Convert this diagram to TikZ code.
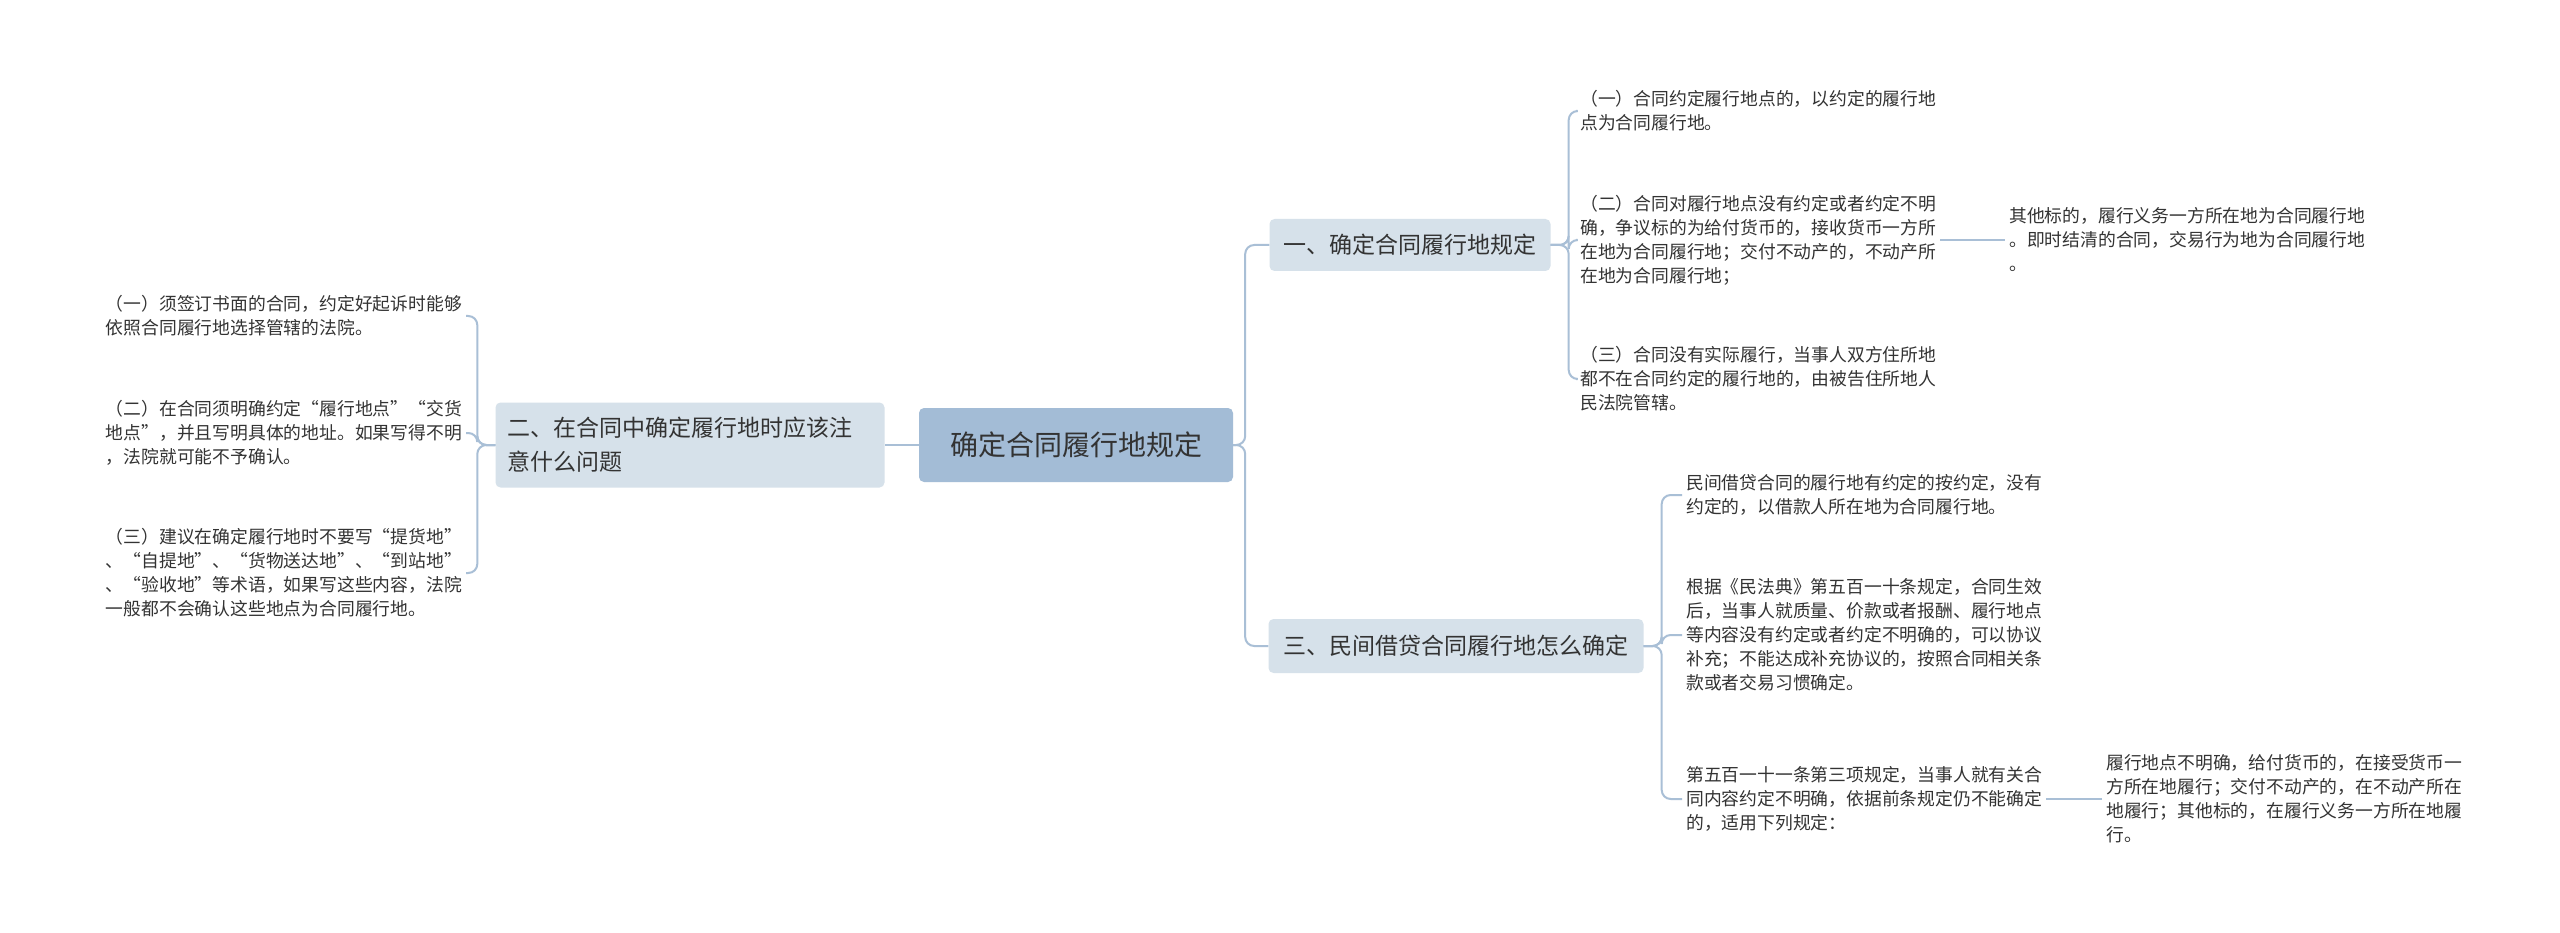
\documentclass[tikz,border=0pt]{standalone}
\usepackage{fontspec}
\setmainfont{Noto Sans CJK SC}
\begin{document}
\begin{tikzpicture}[x=1pt,y=-1pt,
  lk/.style={draw=lnc,line width=2pt,rounded corners=9pt},
  leaf/.style={align=left,inner sep=4pt,text=txc,font=\fontsize{17.8}{24}\selectfont},
  br/.style={fill=brc,rounded corners=5pt,text=txc,font=\fontsize{23}{34}\selectfont,align=left,inner sep=0pt},
]
\definecolor{lnc}{HTML}{A9BFD6}
\definecolor{brc}{HTML}{D6E1EA}
\definecolor{rtc}{HTML}{A3BCD6}
\definecolor{txc}{HTML}{333333}
\useasboundingbox[fill=white] (0,0) rectangle (2560,933);
\node[br,fill=rtc,minimum width=314pt,minimum height=74pt,align=center,font=\fontsize{28}{34}\selectfont] (root) at (1076,445) {确定合同履行地规定};
\node[br,minimum width=389pt,minimum height=85pt,text width=365pt] (b2) at (690,445) {二、在合同中确定履行地时应该注\\意什么问题};
\node[br,minimum width=281pt,minimum height=52pt,align=center] (b1) at (1410,245) {一、确定合同履行地规定};
\node[br,minimum width=375pt,minimum height=54pt,align=center] (b3) at (1456,646) {三、民间借贷合同履行地怎么确定};
\draw[lk] (root.west) -- (b2.east);
\draw[lk] (root.east) -- ++(12,0) |- (b1.west);
\draw[lk] (root.east) -- ++(12,0) |- (b3.west);
% right top leaves
\node[leaf,anchor=west] (a1) at (1576,111) {（一）合同约定履行地点的，以约定的履行地\\点为合同履行地。};
\node[leaf,anchor=west] (a2) at (1576,240) {（二）合同对履行地点没有约定或者约定不明\\确，争议标的为给付货币的，接收货币一方所\\在地为合同履行地；交付不动产的，不动产所\\在地为合同履行地；};
\node[leaf,anchor=west] (a3) at (1576,379) {（三）合同没有实际履行，当事人双方住所地\\都不在合同约定的履行地的，由被告住所地人\\民法院管辖。};
\node[leaf,anchor=west] (a21) at (2005,240) {其他标的，履行义务一方所在地为合同履行地\\。即时结清的合同，交易行为地为合同履行地\\。};
\foreach \c in {a1,a2,a3} \draw[lk] (b1.east) -- ++(18,0) |- (\c.west);
\draw[lk] (a2.east) -- (a21.west);
% right bottom leaves
\node[leaf,anchor=west] (c1) at (1682,495) {民间借贷合同的履行地有约定的按约定，没有\\约定的，以借款人所在地为合同履行地。};
\node[leaf,anchor=west] (c2) at (1682,635) {根据《民法典》第五百一十条规定，合同生效\\后，当事人就质量、价款或者报酬、履行地点\\等内容没有约定或者约定不明确的，可以协议\\补充；不能达成补充协议的，按照合同相关条\\款或者交易习惯确定。};
\node[leaf,anchor=west] (c3) at (1682,799) {第五百一十一条第三项规定，当事人就有关合\\同内容约定不明确，依据前条规定仍不能确定\\的，适用下列规定：};
\node[leaf,anchor=west] (c31) at (2102,799) {履行地点不明确，给付货币的，在接受货币一\\方所在地履行；交付不动产的，在不动产所在\\地履行；其他标的，在履行义务一方所在地履\\行。};
\foreach \c in {c1,c2,c3} \draw[lk] (b3.east) -- ++(18,0) |- (\c.west);
\draw[lk] (c3.east) -- (c31.west);
% left leaves
\node[leaf,anchor=east] (d1) at (466,316) {（一）须签订书面的合同，约定好起诉时能够\\依照合同履行地选择管辖的法院。};
\node[leaf,anchor=east] (d2) at (466,433) {（二）在合同须明确约定“履行地点”“交货\\地点”，并且写明具体的地址。如果写得不明\\，法院就可能不予确认。};
\node[leaf,anchor=east] (d3) at (466,573) {（三）建议在确定履行地时不要写“提货地”\\、“自提地”、“货物送达地”、“到站地”\\、“验收地”等术语，如果写这些内容，法院\\一般都不会确认这些地点为合同履行地。};
\foreach \c in {d1,d2,d3} \draw[lk] (b2.west) -- ++(-18,0) |- (\c.east);
\end{tikzpicture}
\end{document}
